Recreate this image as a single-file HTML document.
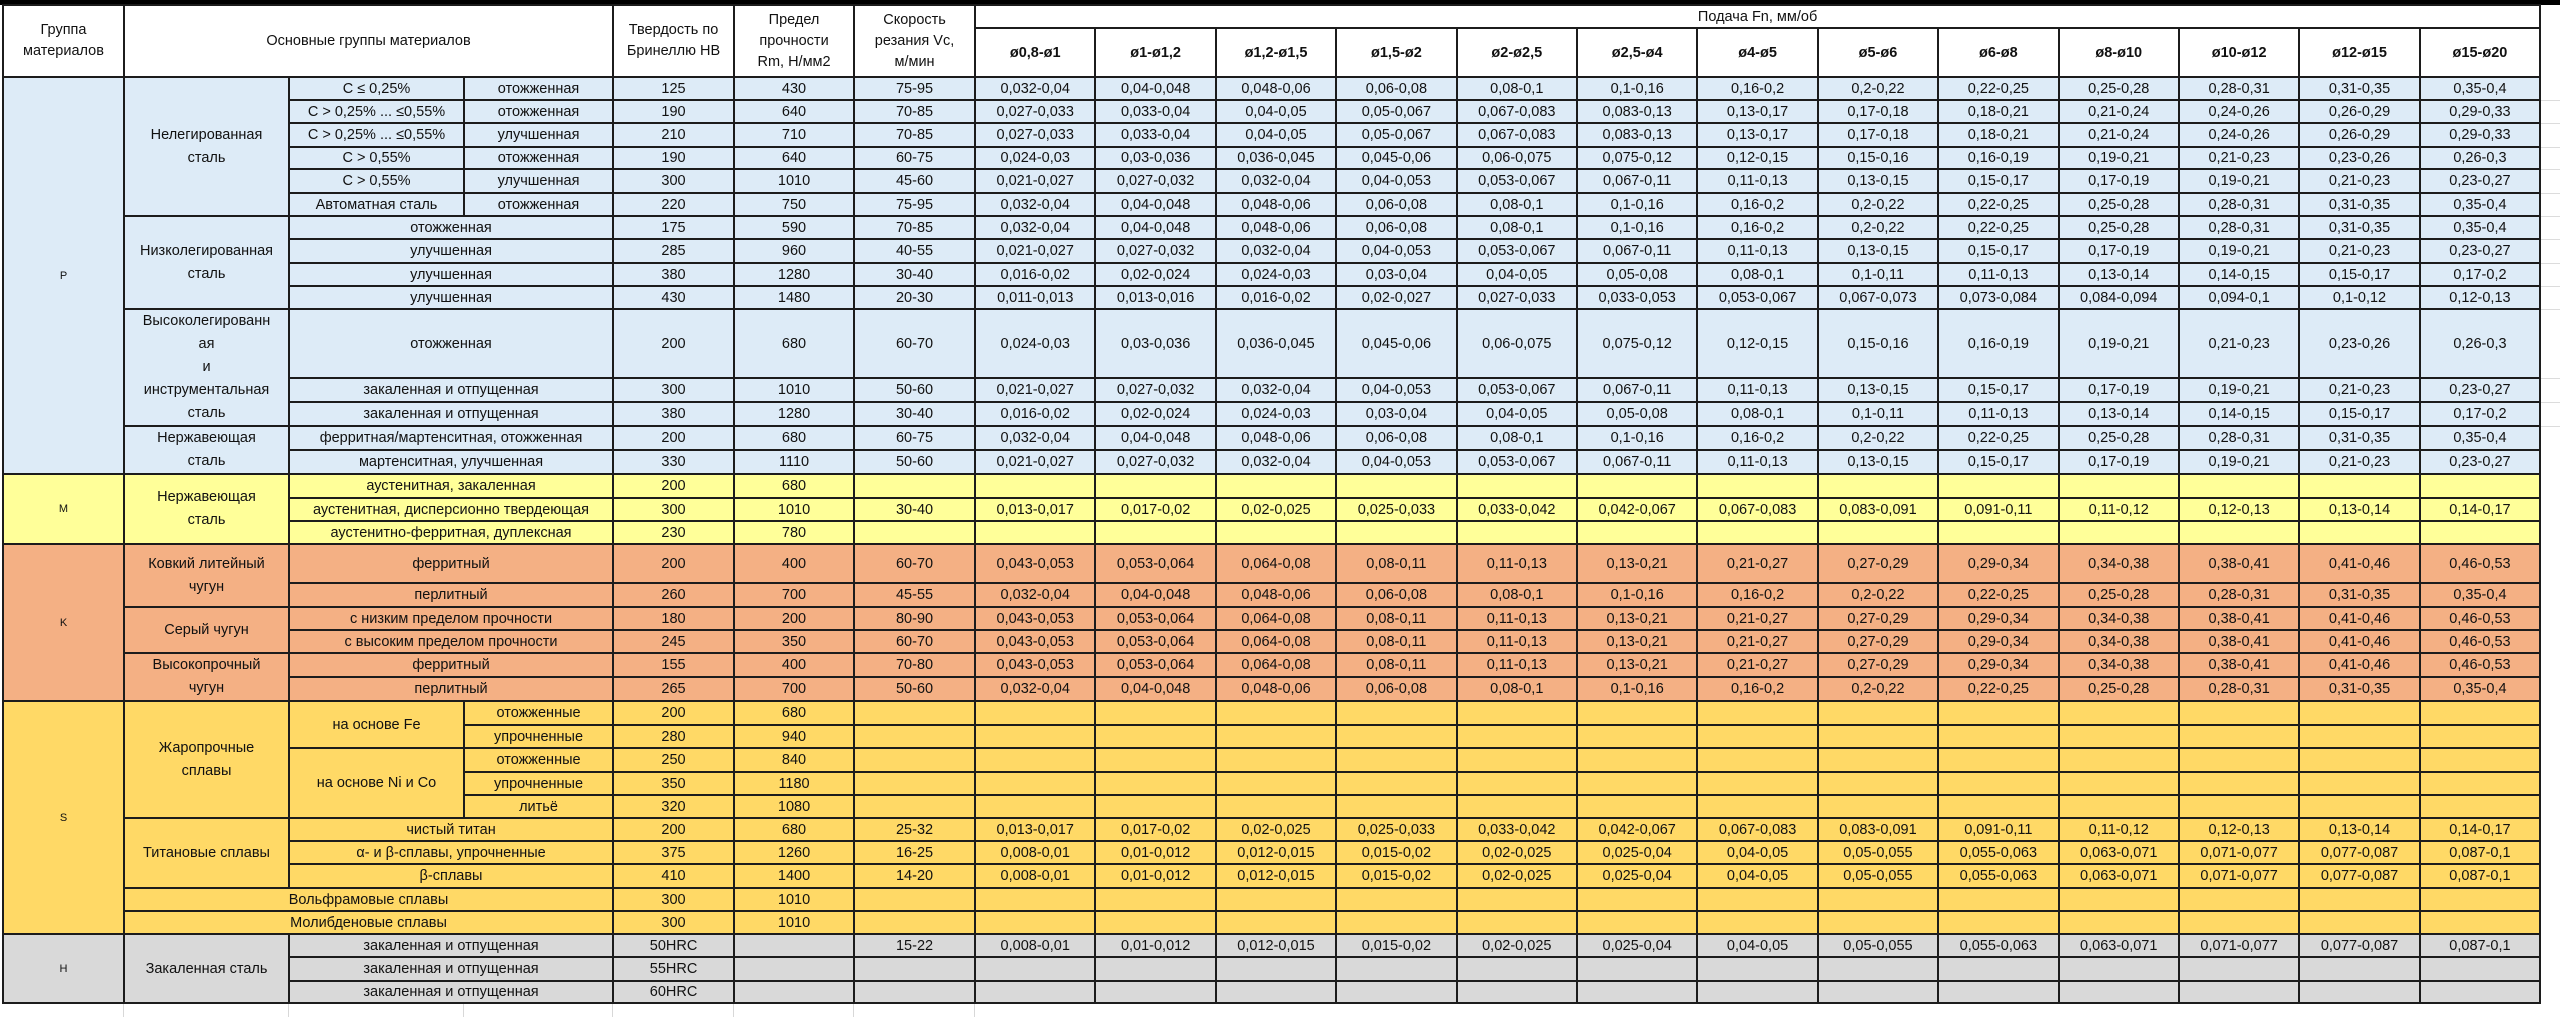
<!DOCTYPE html>
<html><head><meta charset="utf-8">
<style>
html,body{margin:0;padding:0;}
body{width:2560px;height:1017px;position:relative;overflow:hidden;background:#fff;
 background-image:linear-gradient(#000,#000);background-size:2560px 5px;background-repeat:no-repeat;}
table{position:absolute;left:2px;top:4px;border-collapse:collapse;table-layout:fixed;width:2538px;
 font-family:"Liberation Sans",Arial,sans-serif;font-size:14.5px;color:#111;}
td{border:2px solid #1c1c1c;text-align:center;vertical-align:middle;padding:0 1px;white-space:nowrap;overflow:hidden;line-height:18px;}
.h td{background:#fff;}
.h .t{line-height:21px;}
.f{font-weight:bold;}
.P td{background:#ddebf7;}
.M td{background:#ffff99;}
.K td{background:#f4b084;}
.S td{background:#ffd966;}
.H td{background:#d9d9d9;}
.g{font-size:11px;}
.n{line-height:23px;}
.grid{position:absolute;top:1001px;height:16px;width:1px;background:#d8d8d8;}
.hg{position:absolute;left:2541px;width:19px;height:1px;background:#dcdcdc;}
</style></head><body>
<div class="grid" style="left:123px"></div><div class="grid" style="left:288px"></div><div class="grid" style="left:463px"></div><div class="grid" style="left:612px"></div><div class="grid" style="left:733px"></div><div class="grid" style="left:853px"></div><div class="grid" style="left:974px"></div>
<div class="hg" style="top:100px"></div><div class="hg" style="top:123px"></div><div class="hg" style="top:147px"></div><div class="hg" style="top:169px"></div><div class="hg" style="top:193px"></div><div class="hg" style="top:216px"></div><div class="hg" style="top:239px"></div><div class="hg" style="top:263px"></div><div class="hg" style="top:286px"></div><div class="hg" style="top:309px"></div><div class="hg" style="top:378px"></div><div class="hg" style="top:402px"></div><div class="hg" style="top:426px"></div>
<table>
<colgroup>
<col style="width:121px"><col style="width:165px"><col style="width:175px"><col style="width:149px"><col style="width:121px"><col style="width:120px"><col style="width:121px">
<col style="width:120.4px"><col style="width:120.4px"><col style="width:120.4px"><col style="width:120.4px"><col style="width:120.4px"><col style="width:120.4px"><col style="width:120.4px"><col style="width:120.4px"><col style="width:120.4px"><col style="width:120.4px"><col style="width:120.4px"><col style="width:120.4px"><col style="width:120.4px">
</colgroup>
<tr class="h" style="height:23px">
<td rowspan="2" class="t">Группа<br>материалов</td>
<td rowspan="2" colspan="3" class="t">Основные группы материалов</td>
<td rowspan="2" class="t">Твердость по<br>Бринеллю НВ</td>
<td rowspan="2" class="t">Предел<br>прочности<br>Rm, Н/мм2</td>
<td rowspan="2" class="t">Скорость<br>резания Vc,<br>м/мин</td>
<td colspan="13">Подача Fn, мм/об</td>
</tr>
<tr class="h f" style="height:49px">
<td class="f">ø0,8-ø1</td><td class="f">ø1-ø1,2</td><td class="f">ø1,2-ø1,5</td><td class="f">ø1,5-ø2</td><td class="f">ø2-ø2,5</td><td class="f">ø2,5-ø4</td><td class="f">ø4-ø5</td><td class="f">ø5-ø6</td><td class="f">ø6-ø8</td><td class="f">ø8-ø10</td><td class="f">ø10-ø12</td><td class="f">ø12-ø15</td><td class="f">ø15-ø20</td>
</tr>
<!-- P -->
<tr class="P" style="height:23px"><td rowspan="15" class="g">P</td><td rowspan="6" class="n">Нелегированная<br>сталь</td><td>C ≤ 0,25%</td><td>отожженная</td><td>125</td><td>430</td><td>75-95</td>
<td>0,032-0,04</td><td>0,04-0,048</td><td>0,048-0,06</td><td>0,06-0,08</td><td>0,08-0,1</td><td>0,1-0,16</td><td>0,16-0,2</td><td>0,2-0,22</td><td>0,22-0,25</td><td>0,25-0,28</td><td>0,28-0,31</td><td>0,31-0,35</td><td>0,35-0,4</td></tr>
<tr class="P" style="height:23px"><td>C &gt; 0,25% ... ≤0,55%</td><td>отожженная</td><td>190</td><td>640</td><td>70-85</td>
<td>0,027-0,033</td><td>0,033-0,04</td><td>0,04-0,05</td><td>0,05-0,067</td><td>0,067-0,083</td><td>0,083-0,13</td><td>0,13-0,17</td><td>0,17-0,18</td><td>0,18-0,21</td><td>0,21-0,24</td><td>0,24-0,26</td><td>0,26-0,29</td><td>0,29-0,33</td></tr>
<tr class="P" style="height:24px"><td>C &gt; 0,25% ... ≤0,55%</td><td>улучшенная</td><td>210</td><td>710</td><td>70-85</td>
<td>0,027-0,033</td><td>0,033-0,04</td><td>0,04-0,05</td><td>0,05-0,067</td><td>0,067-0,083</td><td>0,083-0,13</td><td>0,13-0,17</td><td>0,17-0,18</td><td>0,18-0,21</td><td>0,21-0,24</td><td>0,24-0,26</td><td>0,26-0,29</td><td>0,29-0,33</td></tr>
<tr class="P" style="height:22px"><td>C &gt; 0,55%</td><td>отожженная</td><td>190</td><td>640</td><td>60-75</td>
<td>0,024-0,03</td><td>0,03-0,036</td><td>0,036-0,045</td><td>0,045-0,06</td><td>0,06-0,075</td><td>0,075-0,12</td><td>0,12-0,15</td><td>0,15-0,16</td><td>0,16-0,19</td><td>0,19-0,21</td><td>0,21-0,23</td><td>0,23-0,26</td><td>0,26-0,3</td></tr>
<tr class="P" style="height:24px"><td>C &gt; 0,55%</td><td>улучшенная</td><td>300</td><td>1010</td><td>45-60</td>
<td>0,021-0,027</td><td>0,027-0,032</td><td>0,032-0,04</td><td>0,04-0,053</td><td>0,053-0,067</td><td>0,067-0,11</td><td>0,11-0,13</td><td>0,13-0,15</td><td>0,15-0,17</td><td>0,17-0,19</td><td>0,19-0,21</td><td>0,21-0,23</td><td>0,23-0,27</td></tr>
<tr class="P" style="height:23px"><td>Автоматная сталь</td><td>отожженная</td><td>220</td><td>750</td><td>75-95</td>
<td>0,032-0,04</td><td>0,04-0,048</td><td>0,048-0,06</td><td>0,06-0,08</td><td>0,08-0,1</td><td>0,1-0,16</td><td>0,16-0,2</td><td>0,2-0,22</td><td>0,22-0,25</td><td>0,25-0,28</td><td>0,28-0,31</td><td>0,31-0,35</td><td>0,35-0,4</td></tr>
<tr class="P" style="height:23px"><td rowspan="4" class="n">Низколегированная<br>сталь</td><td colspan="2">отожженная</td><td>175</td><td>590</td><td>70-85</td>
<td>0,032-0,04</td><td>0,04-0,048</td><td>0,048-0,06</td><td>0,06-0,08</td><td>0,08-0,1</td><td>0,1-0,16</td><td>0,16-0,2</td><td>0,2-0,22</td><td>0,22-0,25</td><td>0,25-0,28</td><td>0,28-0,31</td><td>0,31-0,35</td><td>0,35-0,4</td></tr>
<tr class="P" style="height:24px"><td colspan="2">улучшенная</td><td>285</td><td>960</td><td>40-55</td>
<td>0,021-0,027</td><td>0,027-0,032</td><td>0,032-0,04</td><td>0,04-0,053</td><td>0,053-0,067</td><td>0,067-0,11</td><td>0,11-0,13</td><td>0,13-0,15</td><td>0,15-0,17</td><td>0,17-0,19</td><td>0,19-0,21</td><td>0,21-0,23</td><td>0,23-0,27</td></tr>
<tr class="P" style="height:23px"><td colspan="2">улучшенная</td><td>380</td><td>1280</td><td>30-40</td>
<td>0,016-0,02</td><td>0,02-0,024</td><td>0,024-0,03</td><td>0,03-0,04</td><td>0,04-0,05</td><td>0,05-0,08</td><td>0,08-0,1</td><td>0,1-0,11</td><td>0,11-0,13</td><td>0,13-0,14</td><td>0,14-0,15</td><td>0,15-0,17</td><td>0,17-0,2</td></tr>
<tr class="P" style="height:23px"><td colspan="2">улучшенная</td><td>430</td><td>1480</td><td>20-30</td>
<td>0,011-0,013</td><td>0,013-0,016</td><td>0,016-0,02</td><td>0,02-0,027</td><td>0,027-0,033</td><td>0,033-0,053</td><td>0,053-0,067</td><td>0,067-0,073</td><td>0,073-0,084</td><td>0,084-0,094</td><td>0,094-0,1</td><td>0,1-0,12</td><td>0,12-0,13</td></tr>
<tr class="P" style="height:69px"><td rowspan="3" class="n">Высоколегированн<br>ая<br>и<br>инструментальная<br>сталь</td><td colspan="2">отожженная</td><td>200</td><td>680</td><td>60-70</td>
<td>0,024-0,03</td><td>0,03-0,036</td><td>0,036-0,045</td><td>0,045-0,06</td><td>0,06-0,075</td><td>0,075-0,12</td><td>0,12-0,15</td><td>0,15-0,16</td><td>0,16-0,19</td><td>0,19-0,21</td><td>0,21-0,23</td><td>0,23-0,26</td><td>0,26-0,3</td></tr>
<tr class="P" style="height:24px"><td colspan="2">закаленная и отпущенная</td><td>300</td><td>1010</td><td>50-60</td>
<td>0,021-0,027</td><td>0,027-0,032</td><td>0,032-0,04</td><td>0,04-0,053</td><td>0,053-0,067</td><td>0,067-0,11</td><td>0,11-0,13</td><td>0,13-0,15</td><td>0,15-0,17</td><td>0,17-0,19</td><td>0,19-0,21</td><td>0,21-0,23</td><td>0,23-0,27</td></tr>
<tr class="P" style="height:24px"><td colspan="2">закаленная и отпущенная</td><td>380</td><td>1280</td><td>30-40</td>
<td>0,016-0,02</td><td>0,02-0,024</td><td>0,024-0,03</td><td>0,03-0,04</td><td>0,04-0,05</td><td>0,05-0,08</td><td>0,08-0,1</td><td>0,1-0,11</td><td>0,11-0,13</td><td>0,13-0,14</td><td>0,14-0,15</td><td>0,15-0,17</td><td>0,17-0,2</td></tr>
<tr class="P" style="height:23px"><td rowspan="2" class="n">Нержавеющая<br>сталь</td><td colspan="2">ферритная/мартенситная, отожженная</td><td>200</td><td>680</td><td>60-75</td>
<td>0,032-0,04</td><td>0,04-0,048</td><td>0,048-0,06</td><td>0,06-0,08</td><td>0,08-0,1</td><td>0,1-0,16</td><td>0,16-0,2</td><td>0,2-0,22</td><td>0,22-0,25</td><td>0,25-0,28</td><td>0,28-0,31</td><td>0,31-0,35</td><td>0,35-0,4</td></tr>
<tr class="P" style="height:23px"><td colspan="2">мартенситная, улучшенная</td><td>330</td><td>1110</td><td>50-60</td>
<td>0,021-0,027</td><td>0,027-0,032</td><td>0,032-0,04</td><td>0,04-0,053</td><td>0,053-0,067</td><td>0,067-0,11</td><td>0,11-0,13</td><td>0,13-0,15</td><td>0,15-0,17</td><td>0,17-0,19</td><td>0,19-0,21</td><td>0,21-0,23</td><td>0,23-0,27</td></tr>
<!-- M -->
<tr class="M" style="height:24px"><td rowspan="3" class="g">M</td><td rowspan="3" class="n">Нержавеющая<br>сталь</td><td colspan="2">аустенитная, закаленная</td><td>200</td><td>680</td><td></td>
<td></td><td></td><td></td><td></td><td></td><td></td><td></td><td></td><td></td><td></td><td></td><td></td><td></td></tr>
<tr class="M" style="height:23px"><td colspan="2">аустенитная, дисперсионно твердеющая</td><td>300</td><td>1010</td><td>30-40</td>
<td>0,013-0,017</td><td>0,017-0,02</td><td>0,02-0,025</td><td>0,025-0,033</td><td>0,033-0,042</td><td>0,042-0,067</td><td>0,067-0,083</td><td>0,083-0,091</td><td>0,091-0,11</td><td>0,11-0,12</td><td>0,12-0,13</td><td>0,13-0,14</td><td>0,14-0,17</td></tr>
<tr class="M" style="height:23px"><td colspan="2">аустенитно-ферритная, дуплексная</td><td>230</td><td>780</td><td></td>
<td></td><td></td><td></td><td></td><td></td><td></td><td></td><td></td><td></td><td></td><td></td><td></td><td></td></tr>
<!-- K -->
<tr class="K" style="height:39px"><td rowspan="6" class="g">K</td><td rowspan="2" class="n">Ковкий литейный<br>чугун</td><td colspan="2">ферритный</td><td>200</td><td>400</td><td>60-70</td>
<td>0,043-0,053</td><td>0,053-0,064</td><td>0,064-0,08</td><td>0,08-0,11</td><td>0,11-0,13</td><td>0,13-0,21</td><td>0,21-0,27</td><td>0,27-0,29</td><td>0,29-0,34</td><td>0,34-0,38</td><td>0,38-0,41</td><td>0,41-0,46</td><td>0,46-0,53</td></tr>
<tr class="K" style="height:24px"><td colspan="2">перлитный</td><td>260</td><td>700</td><td>45-55</td>
<td>0,032-0,04</td><td>0,04-0,048</td><td>0,048-0,06</td><td>0,06-0,08</td><td>0,08-0,1</td><td>0,1-0,16</td><td>0,16-0,2</td><td>0,2-0,22</td><td>0,22-0,25</td><td>0,25-0,28</td><td>0,28-0,31</td><td>0,31-0,35</td><td>0,35-0,4</td></tr>
<tr class="K" style="height:23px"><td rowspan="2">Серый чугун</td><td colspan="2">с низким пределом прочности</td><td>180</td><td>200</td><td>80-90</td>
<td>0,043-0,053</td><td>0,053-0,064</td><td>0,064-0,08</td><td>0,08-0,11</td><td>0,11-0,13</td><td>0,13-0,21</td><td>0,21-0,27</td><td>0,27-0,29</td><td>0,29-0,34</td><td>0,34-0,38</td><td>0,38-0,41</td><td>0,41-0,46</td><td>0,46-0,53</td></tr>
<tr class="K" style="height:23px"><td colspan="2">с высоким пределом прочности</td><td>245</td><td>350</td><td>60-70</td>
<td>0,043-0,053</td><td>0,053-0,064</td><td>0,064-0,08</td><td>0,08-0,11</td><td>0,11-0,13</td><td>0,13-0,21</td><td>0,21-0,27</td><td>0,27-0,29</td><td>0,29-0,34</td><td>0,34-0,38</td><td>0,38-0,41</td><td>0,41-0,46</td><td>0,46-0,53</td></tr>
<tr class="K" style="height:23px"><td rowspan="2" class="n">Высокопрочный<br>чугун</td><td colspan="2">ферритный</td><td>155</td><td>400</td><td>70-80</td>
<td>0,043-0,053</td><td>0,053-0,064</td><td>0,064-0,08</td><td>0,08-0,11</td><td>0,11-0,13</td><td>0,13-0,21</td><td>0,21-0,27</td><td>0,27-0,29</td><td>0,29-0,34</td><td>0,34-0,38</td><td>0,38-0,41</td><td>0,41-0,46</td><td>0,46-0,53</td></tr>
<tr class="K" style="height:23px"><td colspan="2">перлитный</td><td>265</td><td>700</td><td>50-60</td>
<td>0,032-0,04</td><td>0,04-0,048</td><td>0,048-0,06</td><td>0,06-0,08</td><td>0,08-0,1</td><td>0,1-0,16</td><td>0,16-0,2</td><td>0,2-0,22</td><td>0,22-0,25</td><td>0,25-0,28</td><td>0,28-0,31</td><td>0,31-0,35</td><td>0,35-0,4</td></tr>
<!-- S -->
<tr class="S" style="height:24px"><td rowspan="10" class="g">S</td><td rowspan="5" class="n">Жаропрочные<br>сплавы</td><td rowspan="2">на основе Fe</td><td>отожженные</td><td>200</td><td>680</td><td></td>
<td></td><td></td><td></td><td></td><td></td><td></td><td></td><td></td><td></td><td></td><td></td><td></td><td></td></tr>
<tr class="S" style="height:23px"><td>упрочненные</td><td>280</td><td>940</td><td></td>
<td></td><td></td><td></td><td></td><td></td><td></td><td></td><td></td><td></td><td></td><td></td><td></td><td></td></tr>
<tr class="S" style="height:24px"><td rowspan="3">на основе Ni и Co</td><td>отожженные</td><td>250</td><td>840</td><td></td>
<td></td><td></td><td></td><td></td><td></td><td></td><td></td><td></td><td></td><td></td><td></td><td></td><td></td></tr>
<tr class="S" style="height:23px"><td>упрочненные</td><td>350</td><td>1180</td><td></td>
<td></td><td></td><td></td><td></td><td></td><td></td><td></td><td></td><td></td><td></td><td></td><td></td><td></td></tr>
<tr class="S" style="height:23px"><td>литьё</td><td>320</td><td>1080</td><td></td>
<td></td><td></td><td></td><td></td><td></td><td></td><td></td><td></td><td></td><td></td><td></td><td></td><td></td></tr>
<tr class="S" style="height:23px"><td rowspan="3">Титановые сплавы</td><td colspan="2">чистый титан</td><td>200</td><td>680</td><td>25-32</td>
<td>0,013-0,017</td><td>0,017-0,02</td><td>0,02-0,025</td><td>0,025-0,033</td><td>0,033-0,042</td><td>0,042-0,067</td><td>0,067-0,083</td><td>0,083-0,091</td><td>0,091-0,11</td><td>0,11-0,12</td><td>0,12-0,13</td><td>0,13-0,14</td><td>0,14-0,17</td></tr>
<tr class="S" style="height:23px"><td colspan="2">α- и β-сплавы, упрочненные</td><td>375</td><td>1260</td><td>16-25</td>
<td>0,008-0,01</td><td>0,01-0,012</td><td>0,012-0,015</td><td>0,015-0,02</td><td>0,02-0,025</td><td>0,025-0,04</td><td>0,04-0,05</td><td>0,05-0,055</td><td>0,055-0,063</td><td>0,063-0,071</td><td>0,071-0,077</td><td>0,077-0,087</td><td>0,087-0,1</td></tr>
<tr class="S" style="height:24px"><td colspan="2">β-сплавы</td><td>410</td><td>1400</td><td>14-20</td>
<td>0,008-0,01</td><td>0,01-0,012</td><td>0,012-0,015</td><td>0,015-0,02</td><td>0,02-0,025</td><td>0,025-0,04</td><td>0,04-0,05</td><td>0,05-0,055</td><td>0,055-0,063</td><td>0,063-0,071</td><td>0,071-0,077</td><td>0,077-0,087</td><td>0,087-0,1</td></tr>
<tr class="S" style="height:23px"><td colspan="3">Вольфрамовые сплавы</td><td>300</td><td>1010</td><td></td>
<td></td><td></td><td></td><td></td><td></td><td></td><td></td><td></td><td></td><td></td><td></td><td></td><td></td></tr>
<tr class="S" style="height:23px"><td colspan="3">Молибденовые сплавы</td><td>300</td><td>1010</td><td></td>
<td></td><td></td><td></td><td></td><td></td><td></td><td></td><td></td><td></td><td></td><td></td><td></td><td></td></tr>
<!-- H -->
<tr class="H" style="height:23px"><td rowspan="3" class="g">H</td><td rowspan="3">Закаленная сталь</td><td colspan="2">закаленная и отпущенная</td><td>50HRC</td><td></td><td>15-22</td>
<td>0,008-0,01</td><td>0,01-0,012</td><td>0,012-0,015</td><td>0,015-0,02</td><td>0,02-0,025</td><td>0,025-0,04</td><td>0,04-0,05</td><td>0,05-0,055</td><td>0,055-0,063</td><td>0,063-0,071</td><td>0,071-0,077</td><td>0,077-0,087</td><td>0,087-0,1</td></tr>
<tr class="H" style="height:24px"><td colspan="2">закаленная и отпущенная</td><td>55HRC</td><td></td><td></td>
<td></td><td></td><td></td><td></td><td></td><td></td><td></td><td></td><td></td><td></td><td></td><td></td><td></td></tr>
<tr class="H" style="height:22px"><td colspan="2">закаленная и отпущенная</td><td>60HRC</td><td></td><td></td>
<td></td><td></td><td></td><td></td><td></td><td></td><td></td><td></td><td></td><td></td><td></td><td></td><td></td></tr>
</table>
</body></html>
